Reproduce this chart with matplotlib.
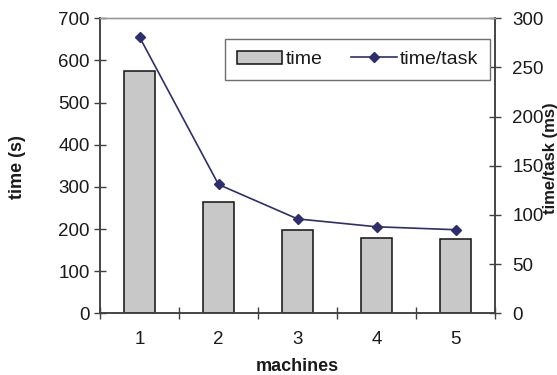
"""Bar + line chart: total time and time per task vs. number of machines."""

import matplotlib
matplotlib.use("Agg")
import matplotlib.pyplot as plt
from matplotlib.ticker import FixedLocator, MultipleLocator

machines = [1, 2, 3, 4, 5]
time_s = [575, 264, 197, 179, 177]
time_per_task_ms = [281, 131, 96, 88, 85]

plt.rcParams["font.family"] = ["Liberation Sans", "DejaVu Sans"]

AXIS_GREY = "#404040"
TEXT = "#1a1a1a"

fig = plt.figure(figsize=(5.57, 3.75), dpi=100)
ax = fig.add_axes([100 / 557, 1 - 313.3 / 375, 395 / 557, 295 / 375])
ax2 = ax.twinx()

bars = ax.bar(machines, time_s, width=0.4, color="#c8c8c8",
              edgecolor="#111111", linewidth=1.1, label="time", zorder=2)
line, = ax2.plot(machines, time_per_task_ms, color="#2e2e6e", linewidth=1.2,
                 marker="D", markersize=5.5, label="time/task", zorder=3)

ax.set_xlim(0.5, 5.5)
ax.set_ylim(0, 700)
ax2.set_ylim(0, 300)
ax.yaxis.set_major_locator(MultipleLocator(100))
ax2.yaxis.set_major_locator(MultipleLocator(50))
ax.set_xticks(machines)
ax.xaxis.set_minor_locator(FixedLocator([0.5, 1.5, 2.5, 3.5, 4.5, 5.5]))

ax.tick_params(axis="x", which="major", length=0, pad=13, labelsize=13.5,
               labelcolor=TEXT)
ax.tick_params(axis="x", which="minor", direction="inout", length=9,
               width=1, color=AXIS_GREY)
ax.tick_params(axis="y", direction="inout", length=9, width=1,
               color=AXIS_GREY, pad=3, labelsize=13.5, labelcolor=TEXT)
ax2.tick_params(axis="y", direction="inout", length=9, width=1,
                color=AXIS_GREY, pad=8, labelsize=13.5, labelcolor=TEXT)

for a in (ax, ax2):
    for side in ("left", "right", "bottom"):
        a.spines[side].set_color(AXIS_GREY)
        a.spines[side].set_linewidth(1.1)
    a.spines["top"].set_color("#9a9a9a")
    a.spines["top"].set_linewidth(1.0)

ax.set_xlabel("machines", fontsize=13, fontweight="bold", color=TEXT,
              labelpad=7)
# axis titles placed where the reference has them
fig.text(18 / 557, 1 - 167 / 375, "time (s)", rotation=90, ha="center",
         va="center", fontsize=13, fontweight="bold", color=TEXT)
fig.text(551 / 557, 1 - 158 / 375, "time/task (ms)", rotation=90,
         ha="center", va="center", fontsize=12, fontweight="bold", color=TEXT)

leg = ax2.legend([bars, line], ["time", "time/task"], ncol=2,
                 loc="upper right", bbox_to_anchor=(490 / 557, 1 - 39 / 375),
                 bbox_transform=fig.transFigure, fontsize=14,
                 fancybox=False, shadow=False, framealpha=1,
                 edgecolor="#707070", handlelength=2.35, handleheight=0.65,
                 handletextpad=0.15, columnspacing=1.5, borderpad=0.6,
                 borderaxespad=0)
leg.get_frame().set_linewidth(1.0)
for t in leg.get_texts():
    t.set_color(TEXT)

fig.savefig("out.png", dpi=100)
